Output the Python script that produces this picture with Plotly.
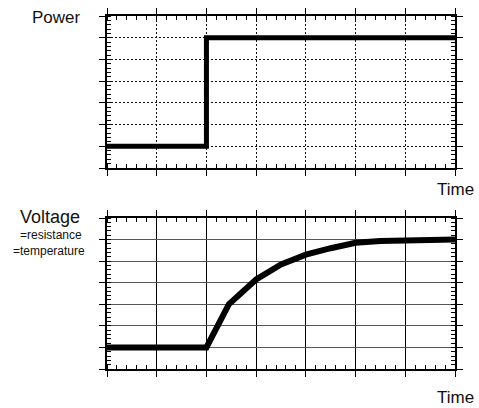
import plotly.graph_objects as go

# Data
time_power = [0, 2, 2, 7]
power = [1, 1, 6, 6]
time_voltage = [0, 2, 2.45, 3, 3.5, 4, 4.5, 5, 5.5, 6, 6.5, 7]
voltage = [1, 1, 3.0, 4.15, 4.85, 5.3, 5.6, 5.85, 5.93, 5.97, 5.99, 6.0]

W, H = 479, 408
def px(x):
    return x / W
def py(y):
    return 1 - y / H

fig = go.Figure()
fig.add_trace(go.Scatter(x=time_power, y=power, mode="lines",
                         line=dict(color="black", width=5), xaxis="x", yaxis="y",
                         showlegend=False, hoverinfo="skip"))
fig.add_trace(go.Scatter(x=time_voltage, y=voltage, mode="lines",
                         line=dict(color="black", width=6),
                         xaxis="x2", yaxis="y2", showlegend=False, hoverinfo="skip"))

def axis(domain, anchor, griddash, gridcolor, gridwidth):
    return dict(domain=domain, anchor=anchor, range=[0, 7], dtick=1, tick0=0,
                showticklabels=False, showline=True, linecolor="black", linewidth=1.5,
                mirror="ticks", ticks="outside", ticklen=6, tickwidth=1.2, tickcolor="black",
                showgrid=True, gridcolor=gridcolor, griddash=griddash, gridwidth=gridwidth,
                zeroline=False, fixedrange=True,
                minor=dict(ticks="inside", ticklen=4, tickwidth=1, tickcolor="black",
                           dtick=0.2, tick0=0, showgrid=False))

xdom = [107 / W, 455 / W]
top_dom = [py(168), py(16)]
bot_dom = [py(369), py(218)]

xa1 = axis(xdom, "y", "2px,2px", "#111111", 1)
ya1 = axis(top_dom, "x", "2px,2px", "#111111", 1)
xa2 = axis(xdom, "y2", "solid", "#000000", 1)
ya2 = axis(bot_dom, "x2", "solid", "#555555", 1.3)
xa2["linewidth"] = 2
ya2["linewidth"] = 2

font = "Liberation Sans, Arial, sans-serif"
ann = []
def add_text(t, x, y, size, anchor="center"):
    ann.append(dict(text=t, x=px(x), y=py(y), xref="paper", yref="paper",
                    showarrow=False, xanchor=anchor, yanchor="middle",
                    font=dict(family=font, size=size, color="#111111")))

add_text("Power", 56, 18, 17)
add_text("Time", 476, 189, 17, "right")
add_text("Voltage", 50, 217, 18)
add_text("=resistance", 51, 235, 12)
add_text("=temperature", 49, 251, 12)
add_text("Time", 476, 397, 17, "right")

fig.update_layout(
    width=W, height=H,
    margin=dict(l=0, r=0, t=0, b=0),
    paper_bgcolor="white", plot_bgcolor="white",
    xaxis=xa1, yaxis=ya1, xaxis2=xa2, yaxis2=ya2,
    annotations=ann,
    showlegend=False,
)

fig.write_html("out.html", config={"displayModeBar": False},
               post_script="document.body.style.margin='0';document.body.style.padding='0';")
